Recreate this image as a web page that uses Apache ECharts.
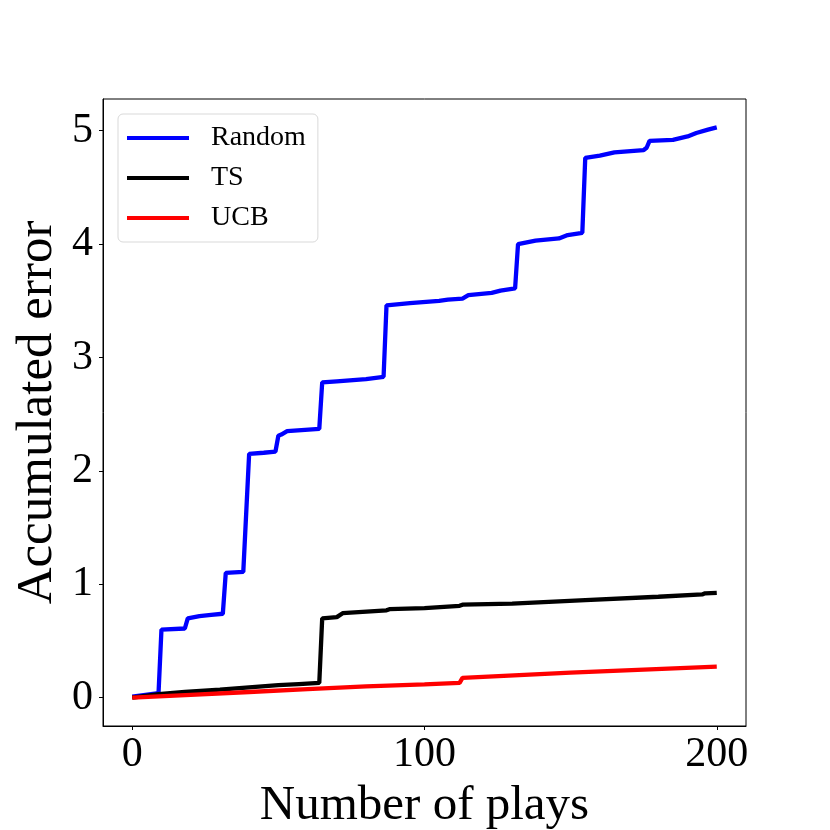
<!DOCTYPE html>
<html>
<head>
<meta charset="utf-8">
<script src="https://cdn.jsdelivr.net/npm/echarts@6/dist/echarts.min.js"></script>
<style>
html,body{margin:0;padding:0;background:#fff;}
#chart{width:830px;height:830px;}
</style>
</head>
<body>
<div id="chart"></div>
<script>
// ---- data ----
const seriesNames = ['Random', 'TS', 'UCB'];
const xTicks = [0, 100, 200];
const yTicks = [0, 1, 2, 3, 4, 5];

const randomData = [
  [0,0.01],[9,0.04],[10,0.60],[18,0.61],[19,0.70],[23,0.72],[27,0.73],[31,0.74],
  [32,1.10],[38,1.11],[40,2.15],[45,2.16],[49,2.17],[50,2.31],[51,2.32],[53,2.35],
  [64,2.37],[65,2.78],[70,2.79],[80,2.81],[86,2.83],[87,3.46],[95,3.48],[105,3.50],
  [108,3.51],[113,3.52],[115,3.55],[123,3.57],[126,3.59],[131,3.61],[132,4.00],
  [138,4.03],[146,4.05],[149,4.08],[154,4.10],[155,4.76],[160,4.78],[165,4.81],
  [175,4.83],[176,4.85],[177,4.91],[185,4.92],[190,4.95],[193,4.98],[197,5.01],[200,5.03]
];
const tsData = [
  [0,0],[9,0.03],[18,0.05],[30,0.07],[40,0.09],[50,0.11],[57,0.12],[64,0.13],
  [65,0.70],[70,0.71],[72,0.745],[87,0.77],[88,0.78],[100,0.79],[112,0.81],[113,0.82],
  [130,0.83],[155,0.86],[180,0.89],[195,0.91],[196,0.92],[200,0.925]
];
const ucbData = [
  [0,0],[20,0.025],[40,0.05],[60,0.075],[80,0.10],[100,0.118],[112,0.13],[113,0.175],
  [150,0.22],[200,0.274]
];
const seriesColors = ['#0000ff', '#000000', '#ff0000'];

// ---- chart ----
const FONT = 'Liberation Serif';
const chart = echarts.init(document.getElementById('chart'), null, {renderer: 'canvas'});
const allData = [randomData, tsData, ucbData];

chart.setOption({
  animation: false,
  backgroundColor: '#fff',
  textStyle: {fontFamily: FONT, color: '#000'},
  grid: {
    left: 103, right: 84, top: 99, bottom: 104,
    outerBoundsMode: 'none',
    containLabel: false,
    show: true, borderColor: '#000', borderWidth: 1, backgroundColor: 'transparent'
  },
  legend: {
    left: 118, top: 114,
    orient: 'vertical',
    data: seriesNames,
    icon: 'rect',
    itemWidth: 62, itemHeight: 4,
    itemGap: 10,
    padding: [9, 12, 9, 9],
    backgroundColor: '#fff',
    borderColor: '#d9d9d9', borderWidth: 1, borderRadius: 5,
    textStyle: {fontFamily: FONT, fontSize: 28, color: '#000', lineHeight: 30, padding: [0, 0, 0, 17]}
  },
  xAxis: {
    type: 'value', min: -10, max: 210,
    name: 'Number of plays', nameLocation: 'middle', nameGap: 56,
    nameMoveOverlap: false,
    nameTextStyle: {fontFamily: FONT, fontSize: 49, color: '#000'},
    axisLine: {show: true, onZero: false, lineStyle: {color: '#000', width: 1}},
    axisTick: {show: true, length: 4, lineStyle: {color: '#000'}, customValues: xTicks},
    axisLabel: {fontFamily: FONT, fontSize: 42, color: '#000', margin: 8, customValues: xTicks},
    splitLine: {show: false}
  },
  yAxis: {
    type: 'value', min: -0.25, max: 5.28,
    name: 'Accumulated error', nameLocation: 'middle', nameGap: 40,
    nameMoveOverlap: false,
    nameTextStyle: {fontFamily: FONT, fontSize: 51, color: '#000'},
    axisLine: {show: true, onZero: false, lineStyle: {color: '#000', width: 1}},
    axisTick: {show: true, length: 4, lineStyle: {color: '#000'}, customValues: yTicks},
    axisLabel: {fontFamily: FONT, fontSize: 42, color: '#000', margin: 10, customValues: yTicks},
    splitLine: {show: false}
  },
  series: seriesNames.map((n, i) => ({
    name: n,
    type: 'line',
    data: allData[i],
    showSymbol: false,
    symbol: 'none',
    lineStyle: {color: seriesColors[i], width: 4.3},
    itemStyle: {color: seriesColors[i]},
    z: 2 + i
  }))
});
</script>
</body>
</html>
